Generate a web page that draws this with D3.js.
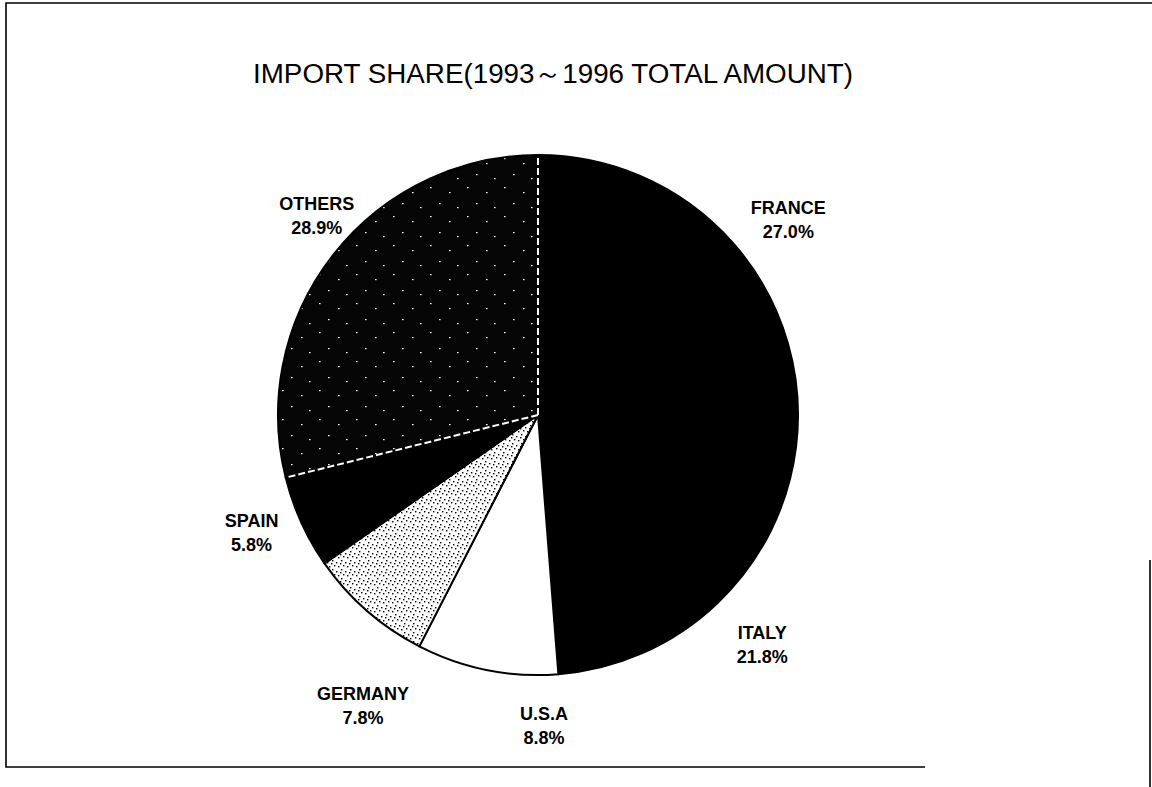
<!DOCTYPE html>
<html>
<head>
<meta charset="utf-8">
<script src="https://cdn.jsdelivr.net/npm/d3@7"></script>
<style>
  html, body { margin: 0; padding: 0; background: #fff; }
  svg { display: block; }
  text { font-family: "Liberation Sans", Arial, sans-serif; fill: #000; }
</style>
</head>
<body>
<svg id="chart" width="1152" height="787"></svg>
<script>
// data
const paises   = ["FRANCE", "ITALY", "U.S.A", "GERMANY", "SPAIN", "OTHERS"];
const valores  = [27.0, 21.8, 8.8, 7.8, 5.8, 28.9];
const rellenos = ["#000", "#000", "#fff", "url(#puntosClaros)", "#000", "url(#puntosOscuros)"];
// label nudges from the centroid of the outer label ring
const ajustes  = [[18, 9], [10, 5], [67, 6], [29, 57], [-4, -11], [23, -9]];
const titulo   = "IMPORT SHARE(1993～1996 TOTAL AMOUNT)";

const svg = d3.select('#chart');
const cx = 538, cy = 415, radio = 260;

// frame (scanned page edges)
svg.append('path')
  .attr('d', 'M1152,3 L6,3 L6,767 L925,767 M1150,560 L1150,787')
  .attr('fill', 'none').attr('stroke', '#000').attr('stroke-width', 1.6);

// textures
const defs = svg.append('defs');
const pc = defs.append('pattern').attr('id', 'puntosClaros')
  .attr('patternUnits', 'userSpaceOnUse').attr('width', 9).attr('height', 9);
pc.append('rect').attr('width', 9).attr('height', 9).attr('fill', '#fff');
[[1,1],[5,3],[3,6],[7,7],[0,4]].forEach(p =>
  pc.append('rect').attr('x', p[0]).attr('y', p[1]).attr('width', 1.4).attr('height', 1.4).attr('fill', '#000'));

const po = defs.append('pattern').attr('id', 'puntosOscuros')
  .attr('patternUnits', 'userSpaceOnUse').attr('width', 37).attr('height', 29);
po.append('rect').attr('width', 37).attr('height', 29).attr('fill', '#050505');
[[3,4],[22,9],[12,20],[30,24]].forEach(p =>
  po.append('rect').attr('x', p[0]).attr('y', p[1]).attr('width', 1.6).attr('height', 1.2).attr('fill', '#fff'));

// title
svg.append('text')
  .attr('x', 553).attr('y', 83)
  .attr('text-anchor', 'middle')
  .attr('font-size', 27)
  .attr('textLength', 600).attr('lengthAdjust', 'spacingAndGlyphs')
  .text(titulo);

const pie = d3.pie().sort(null).value(d => d)(valores);
const arco = d3.arc().innerRadius(0).outerRadius(radio);
const arcoEtiqueta = d3.arc().innerRadius(310).outerRadius(310);

const g = svg.append('g').attr('transform', `translate(${cx},${cy})`);

g.selectAll('path.rebanada')
  .data(pie)
  .join('path')
  .attr('class', 'rebanada')
  .attr('d', arco)
  .attr('fill', (d, i) => rellenos[i])
  .attr('stroke', '#000')
  .attr('stroke-width', 2)
  .attr('stroke-linejoin', 'round');

// white dashed edges of the OTHERS slice
const otros = pie[5];
[otros.startAngle, otros.endAngle].forEach(a => {
  g.append('line')
    .attr('x1', 0).attr('y1', 0)
    .attr('x2', Math.sin(a) * (radio - 3)).attr('y2', -Math.cos(a) * (radio - 3))
    .attr('stroke', '#fff').attr('stroke-width', 2)
    .attr('stroke-dasharray', '7 3');
});

// labels
const etiquetas = g.selectAll('text.etiqueta')
  .data(pie)
  .join('text')
  .attr('class', 'etiqueta')
  .attr('text-anchor', 'middle')
  .attr('font-size', 18)
  .attr('font-weight', 'bold')
  .attr('transform', (d, i) => {
    const c = arcoEtiqueta.centroid(d);
    return `translate(${c[0] + ajustes[i][0]},${c[1] + ajustes[i][1]})`;
  });

etiquetas.append('tspan').attr('x', 0).attr('y', -5).text((d, i) => paises[i]);
etiquetas.append('tspan').attr('x', 0).attr('y', 19).text(d => d.data.toFixed(1) + '%');
</script>
</body>
</html>
